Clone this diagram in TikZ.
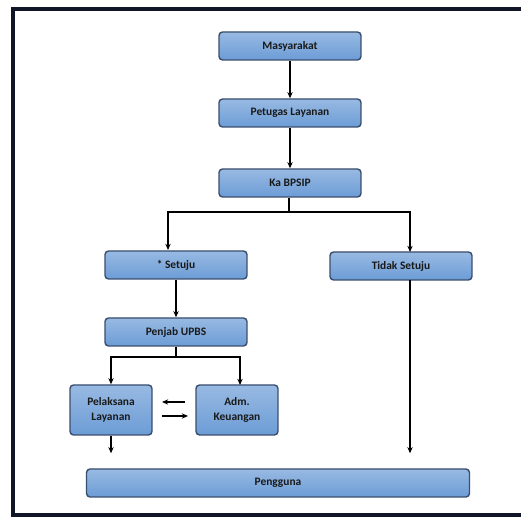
\documentclass[tikz,border=0pt]{standalone}
\usepackage{fontspec}
\setmainfont{Carlito}
\usetikzlibrary{arrows.meta, positioning}

\definecolor{boxfill}{RGB}{108,156,214}
\definecolor{boxedge}{RGB}{58,78,110}
\definecolor{frameline}{RGB}{16,22,40}

\tikzset{
    flowbox/.style={draw=boxedge, line width=0.8pt, rounded corners=2pt,
        top color=boxfill!70!white, bottom color=boxfill,
        font=\fontsize{6.5}{7.5}\selectfont\bfseries, text=black!90,
        minimum width=2.84cm, minimum height=0.56cm, align=center, inner sep=1pt},
    smallbox/.style={flowbox, minimum width=1.64cm, minimum height=1cm},
    link/.style={line width=0.9pt, -{Stealth[length=3.5pt, width=3pt]}},
    plain/.style={line width=0.9pt}
}

\begin{document}
\begin{tikzpicture}[x=0.02cm, y=-0.02cm]
    \clip (0,0) rectangle (521,519);
    \fill[white] (0,0) rectangle (521,519);
    % outer frame, right side runs off the page
    \draw[frameline, line width=1.9pt] (540,9) -| (13,515) -- (540,515);

    % main chain
    \node[flowbox] (masy) at (290,46) {Masyarakat};
    \node[flowbox] (petugas) at (290,113) {Petugas Layanan};
    \node[flowbox] (ka) at (290,183) {Ka BPSIP};

    \node[flowbox] (setuju) at (176,265) {* Setuju};
    \node[flowbox] (tidak) at (401,266) {Tidak Setuju};
    \node[flowbox] (penjab) at (176,332) {Penjab UPBS};

    \node[smallbox] (pelaksana) at (111,410) {Pelaksana\\[1pt]Layanan};
    \node[smallbox] (adm) at (237,410) {Adm.\\[1pt]Keuangan};

    \node[flowbox, minimum width=7.66cm] (pengguna) at (278,483) {Pengguna};

    \draw[link] (masy) -- (petugas);
    \draw[link] (petugas) -- (ka);

    % split after Ka BPSIP
    \coordinate (kasplit) at (289,212);
    \coordinate (setujuin) at (168,250);
    \coordinate (tidakin) at (410,252);
    \draw[plain] (ka.south -| kasplit) -- (kasplit);
    \draw[link] (kasplit) -| (setujuin);
    \draw[link] (kasplit) -| (tidakin);
    \draw[link] (setuju) -- (penjab);

    % split after Penjab UPBS
    \coordinate (pjsplit) at (176,357);
    \coordinate (admin) at (240,385);
    \draw[plain] (penjab.south) -- (pjsplit);
    \draw[link] (pjsplit) -| (pelaksana.north);
    \draw[link] (pjsplit) -| (admin);

    % exchange between the two
    \coordinate (backfrom) at (185,402);
    \coordinate (backto) at (162,402);
    \coordinate (goto) at (188,416);
    \coordinate (gofrom) at (162,416);
    \draw[link] (backfrom) -- (backto);
    \draw[link] (gofrom) -- (goto);

    % to Pengguna
    \coordinate (tidakout) at (410,280);
    \draw[link, shorten >=15*0.02cm] (pelaksana.south) -- (pelaksana.south |- pengguna.north);
    \draw[link, shorten >=15*0.02cm] (tidakout) -- (tidakout |- pengguna.north);
\end{tikzpicture}
\end{document}
